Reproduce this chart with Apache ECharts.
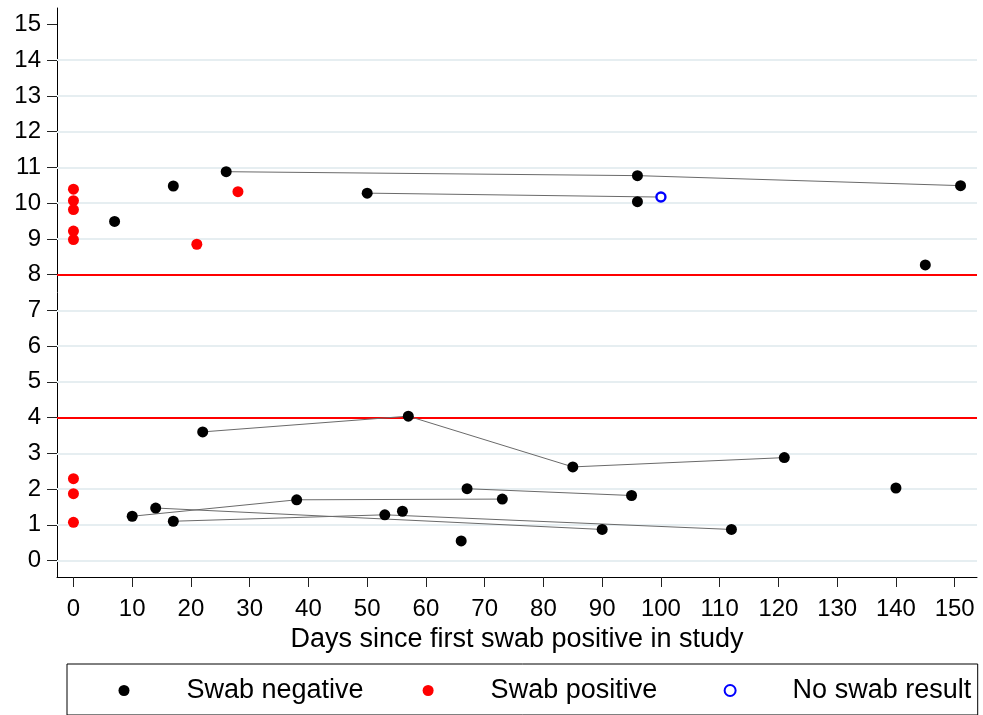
<!DOCTYPE html>
<html>
<head>
<meta charset="utf-8">
<script src="https://cdn.jsdelivr.net/npm/echarts@6/dist/echarts.min.js"></script>
<style>html,body{margin:0;padding:0;background:#fff}#c{width:983px;height:715px}</style>
</head>
<body>
<div id="c"></div>
<script>
// ---- data ----
const xTickValues = [0,10,20,30,40,50,60,70,80,90,100,110,120,130,140,150];
const yTickValues = [0,1,2,3,4,5,6,7,8,9,10,11,12,13,14,15];
const gridValues = [0,1,2,3,4,5,6,7,8,9,10,11,12,13,14];
const thresholdValues = [4, 8];

const negDays   = [10, 14, 17, 22, 38, 53, 56, 57, 66, 67, 73, 85, 90, 95, 112, 121, 140, 7, 17, 26, 50, 96, 96, 145, 151];
const negValues = [1.24, 1.47, 1.10, 3.60, 1.70, 1.28, 1.38, 4.04, 0.55, 2.01, 1.72, 2.62, 0.87, 1.82, 0.87, 2.88, 2.03, 9.49, 10.48, 10.88, 10.28, 10.77, 10.04, 8.27, 10.49];

const posDays   = [0, 0, 0, 0, 0, 0, 0, 0, 21, 28];
const posValues = [10.39, 10.07, 9.82, 9.22, 8.98, 2.29, 1.87, 1.07, 8.85, 10.32];

const noResultDays   = [100];
const noResultValues = [10.17];

// connected follow-up trajectories: [day, value]
const trajA = [[22, 3.60], [57, 4.04], [85, 2.62], [121, 2.88]];
const trajB = [[10, 1.24], [38, 1.70], [73, 1.72]];
const trajC = [[67, 2.01], [95, 1.82]];
const trajD = [[14, 1.47], [90, 0.87]];
const trajE = [[17, 1.10], [53, 1.28], [112, 0.87]];
const trajF = [[26, 10.88], [96, 10.77], [151, 10.49]];
const trajG = [[50, 10.28], [100, 10.17]];
const trajectories = [trajA, trajB, trajC, trajD, trajE, trajF, trajG];

// ---- chart ----
const FONT = "'Liberation Sans', Arial, Helvetica, sans-serif";
const zip = (xs, ys) => xs.map((x, i) => [x, ys[i]]);

const chart = echarts.init(document.getElementById('c'), null, {renderer: 'canvas'});

const lineSeries = trajectories.map((t, i) => ({
  name: 'traj' + i,
  type: 'line',
  data: t,
  symbol: 'none',
  z: 2,
  lineStyle: {color: '#6a6a6a', width: 1},
  silent: true
}));

const markLineData = gridValues.map(v => ({yAxis: v, lineStyle: {color: '#e6eef1', width: 2, type: 'solid'}}))
  .concat(thresholdValues.map(v => ({yAxis: v, lineStyle: {color: '#ff0000', width: 2, type: 'solid'}})));

chart.setOption({
  animation: false,
  backgroundColor: '#ffffff',
  textStyle: {fontFamily: FONT},
  grid: {left: 57, top: 8, right: 6, bottom: 138, containLabel: false},
  xAxis: {
    type: 'value', min: -2.8, max: 153.8,
    name: 'Days since first swab positive in study',
    nameLocation: 'middle', nameGap: 45,
    nameTextStyle: {fontSize: 27, color: '#000', fontFamily: FONT},
    axisLine: {show: true, onZero: false, lineStyle: {color: '#000', width: 1}},
    axisTick: {show: true, customValues: xTickValues, length: 10, lineStyle: {color: '#222', width: 1}},
    axisLabel: {customValues: xTickValues, fontSize: 24, color: '#000', margin: 20, fontFamily: FONT},
    splitLine: {show: false}
  },
  yAxis: {
    type: 'value', min: -0.46, max: 15.46,
    axisLine: {show: true, onZero: false, lineStyle: {color: '#000', width: 1}},
    axisTick: {show: true, customValues: yTickValues, length: 10, lineStyle: {color: '#222', width: 1}},
    axisLabel: {customValues: yTickValues, fontSize: 24, color: '#000', margin: 16, fontFamily: FONT, padding: [6, 0, 0, 0]},
    splitLine: {show: false}
  },
  legend: {
    data: ['Swab negative', 'Swab positive', 'No swab result'],
    selectedMode: false,
    left: 67, top: 664, right: 0,
    orient: 'horizontal',
    itemWidth: 11, itemHeight: 11, itemGap: 59,
    padding: [13, 6.5, 11, 51.5],
    borderColor: '#000', borderWidth: 1,
    formatter: name => '{t|' + name + '}',
    textStyle: {
      fontSize: 27, color: '#000', fontFamily: FONT,
      rich: {t: {fontSize: 27, color: '#000', fontFamily: FONT, width: 174, lineHeight: 26, padding: [0, 0, 0, 52]}}
    }
  },
  series: [
    {
      name: 'gridlines', type: 'line', data: [], silent: true,
      markLine: {silent: true, symbol: ['none', 'none'], z: 1, animation: false,
        label: {show: false}, emphasis: {disabled: true}, data: markLineData}
    },
    ...lineSeries,
    {
      name: 'Swab negative', type: 'scatter', z: 3,
      data: zip(negDays, negValues), symbol: 'circle', symbolSize: 11,
      itemStyle: {color: '#000000', opacity: 1}
    },
    {
      name: 'Swab positive', type: 'scatter', z: 3,
      data: zip(posDays, posValues), symbol: 'circle', symbolSize: 11,
      itemStyle: {color: '#ff0000', opacity: 1}
    },
    {
      name: 'No swab result', type: 'scatter', z: 4,
      data: zip(noResultDays, noResultValues), symbol: 'circle', symbolSize: 9,
      itemStyle: {color: '#ffffff', borderColor: '#0000ff', borderWidth: 2.4, opacity: 1}
    }
  ]
});
</script>
</body>
</html>
